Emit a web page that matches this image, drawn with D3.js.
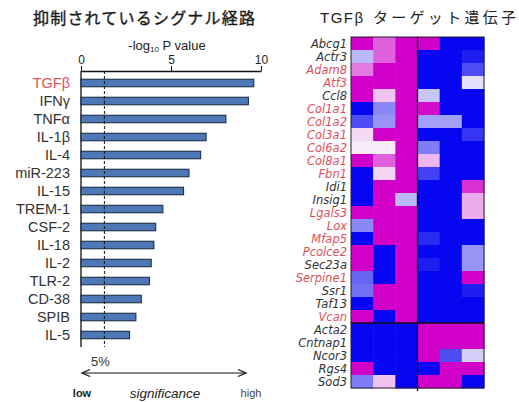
<!DOCTYPE html>
<html>
<head>
<meta charset="utf-8">
<script src="https://cdn.jsdelivr.net/npm/d3@7"></script>
<style>
  html, body { margin: 0; padding: 0; background: #fff; }
  svg { display: block; }
</style>
</head>
<body>
<div id="chart"></div>
<script>
// Suppressed signalling pathways: -log10 P value per pathway
const pathways = ["TGFβ", "IFNγ", "TNFα", "IL-1β", "IL-4", "miR-223", "IL-15", "TREM-1",
                  "CSF-2", "IL-18", "IL-2", "TLR-2", "CD-38", "SPIB", "IL-5"];
const logP = [9.6, 9.3, 8.05, 6.95, 6.65, 6.0, 5.7, 4.55, 4.15, 4.05, 3.9, 3.8, 3.35, 3.05, 2.7];
const highlightedPathways = ["TGFβ"];
const pTicks = [0, 5, 10];
const cutoff5pct = 1.3;   // -log10(0.05)

// TGFβ target genes: relative expression (-1 = low / blue, +1 = high / magenta)
const genes = ["Abcg1", "Actr3", "Adam8", "Atf3", "Ccl8", "Col1a1", "Col1a2", "Col3a1", "Col6a2",
               "Col8a1", "Fbn1", "Idi1", "Insig1", "Lgals3", "Lox", "Mfap5", "Pcolce2", "Sec23a",
               "Serpine1", "Ssr1", "Taf13", "Vcan", "Acta2", "Cntnap1", "Ncor3", "Rgs4", "Sod3"];
const knownTargets = ["Adam8", "Atf3", "Col1a1", "Col1a2", "Col3a1", "Col6a2", "Col8a1", "Fbn1",
                      "Lgals3", "Lox", "Mfap5", "Pcolce2", "Serpine1", "Vcan"];
const samples = ["s1", "s2", "s3", "s4", "s5", "s6"];
const expression = [
  [1, 0.6, 1, 1, -1, -1],
  [-0.25, 0.6, 1, -1, -1, -0.9],
  [0.5, 1, 1, -1, -1, -0.7],
  [1, 1, 1, -1, -1, -0.08],
  [1, 0.2, 1, -0.2, -1, -1],
  [-1, -0.45, 1, 0.95, -1, -1],
  [-0.7, -0.4, 1, -0.35, -0.35, -1],
  [0.1, 1, 1, -1, -1, -0.8],
  [0.03, 0.03, 1, -0.5, -1, -1],
  [1, 0.6, 1, 0.25, -1, -1],
  [-1, 0.12, 1, -0.75, -1, -1],
  [-1, 1, 1, -1, -1, 0.8],
  [-1, 1, -0.25, -1, -1, 0.3],
  [1, 1, 1, -1, -1, 0.3],
  [-0.45, 1, 1, -1, -1, -1],
  [-1, 1, 1, -0.85, -1, -1],
  [1, -1, 1, -1, -1, -0.4],
  [1, -1, 1, -0.9, -1, -0.4],
  [-0.6, -1, 1, -1, -1, 1],
  [-0.55, 1, 1, -1, -1, -0.9],
  [-1, 1, 1, -1, -1, -1],
  [1, -1, 1, -1, -1, -1],
  [-1, -1, -1, 1, 1, 1],
  [-1, -1, -1, 1, 1, 1],
  [-1, -1, -1, 1, -0.7, -0.15],
  [1, -1, -1, -1, 1, 1],
  [-0.5, 0.2, -1, 1, 1, -1]
];

const W = 519, H = 402;
const svg = d3.select("#chart").append("svg").attr("width", W).attr("height", H);
const sans = "Liberation Sans, Arial, sans-serif";
const cjk = "'Noto Sans CJK JP', sans-serif";
const red = "#e0505c";

// ---------- left panel: bar chart ----------
svg.append("text")
  .attr("x", 33).attr("y", 24)
  .attr("textLength", 222).attr("lengthAdjust", "spacing")
  .style("font-family", cjk).style("font-size", "16px")
  .attr("fill", "#1a1a1a").attr("stroke", "#1a1a1a").attr("stroke-width", 0.35)
  .text("抑制されているシグナル経路");

const x = d3.scaleLinear().domain([0, 10]).range([81, 261]);
const y = d3.scaleBand().domain(pathways).range([74, 344]).paddingInner(0.58).paddingOuter(0.29);
const axisY = 71, plotBottom = 347;

const ax = svg.append("g").attr("transform", `translate(0,${axisY})`)
  .call(d3.axisTop(x).tickValues(pTicks).tickSize(5).tickSizeOuter(0).tickPadding(2));
ax.select(".domain").attr("stroke", "#111").attr("stroke-width", 1.3);
ax.selectAll(".tick line").attr("stroke", "#111");
ax.selectAll(".tick text").style("font-family", sans).style("font-size", "12px").attr("fill", "#222");

const axTitle = svg.append("text").attr("x", 167).attr("y", 50)
  .attr("text-anchor", "middle")
  .style("font-family", sans).style("font-size", "13px").attr("fill", "#222");
axTitle.append("tspan").text("-log");
axTitle.append("tspan").attr("dy", 2).style("font-size", "8px").text("10");
axTitle.append("tspan").attr("dy", -2).text(" P value");

// vertical baseline
svg.append("line").attr("x1", x(0)).attr("x2", x(0)).attr("y1", axisY).attr("y2", plotBottom)
  .attr("stroke", "#111").attr("stroke-width", 1.3);

// bars
svg.append("g").selectAll("rect").data(pathways).join("rect")
  .attr("x", x(0))
  .attr("y", d => y(d))
  .attr("width", (d, i) => x(logP[i]) - x(0))
  .attr("height", y.bandwidth())
  .attr("fill", "#4d78b6")
  .attr("stroke", "#15243f").attr("stroke-width", 1);

// 5% significance line
svg.append("line").attr("x1", x(cutoff5pct)).attr("x2", x(cutoff5pct))
  .attr("y1", axisY).attr("y2", plotBottom)
  .attr("stroke", "#111").attr("stroke-width", 1).attr("stroke-dasharray", "3,2");

// category labels
svg.append("g").selectAll("text").data(pathways).join("text")
  .attr("x", 70)
  .attr("y", d => y(d) + y.bandwidth() / 2)
  .attr("dy", "0.36em")
  .attr("text-anchor", "end")
  .style("font-family", sans).style("font-size", "14.5px")
  .attr("fill", d => highlightedPathways.includes(d) ? red : "#333")
  .text(d => d);

svg.append("text").attr("x", x(cutoff5pct) - 4).attr("y", 366)
  .attr("text-anchor", "middle")
  .style("font-family", sans).style("font-size", "13px").attr("fill", "#333").text("5%");

// significance arrow
const arrowY = 373, ax0 = 82, ax1 = 246;
svg.append("line").attr("x1", ax0).attr("x2", ax1).attr("y1", arrowY).attr("y2", arrowY)
  .attr("stroke", "#111").attr("stroke-width", 1.2);
svg.append("path")
  .attr("d", `M${ax0 + 8},${arrowY - 3.5}L${ax0},${arrowY}L${ax0 + 8},${arrowY + 3.5}` +
             `M${ax1 - 8},${arrowY - 3.5}L${ax1},${arrowY}L${ax1 - 8},${arrowY + 3.5}`)
  .attr("fill", "none").attr("stroke", "#111").attr("stroke-width", 1.2);
svg.append("text").attr("x", 82).attr("y", 397).attr("text-anchor", "middle")
  .style("font-family", sans).style("font-size", "11px").style("font-weight", 700)
  .attr("fill", "#222").text("low");
svg.append("text").attr("x", 165).attr("y", 398).attr("text-anchor", "middle")
  .style("font-family", sans).style("font-size", "13.5px").style("font-style", "italic")
  .attr("fill", "#222").text("significance");
svg.append("text").attr("x", 251).attr("y", 397).attr("text-anchor", "middle")
  .style("font-family", sans).style("font-size", "11px")
  .attr("fill", "#444").text("high");

// ---------- right panel: heatmap ----------
const hTitle = svg.append("text").attr("y", 23)
  .style("font-size", "15px").attr("fill", "#222");
hTitle.append("tspan").attr("x", 320)
  .style("font-family", sans).style("letter-spacing", "1.5px").text("TGFβ");
hTitle.append("tspan").attr("x", 373)
  .attr("textLength", 143).attr("lengthAdjust", "spacing")
  .style("font-family", cjk).text("ターゲット遺伝子");

const hx = d3.scaleBand().domain(samples).range([351, 484]);
const hy = d3.scaleBand().domain(genes).range([37, 388]);
const color = d3.scaleLinear().domain([-1, 0, 1])
  .range(["#0606f0", "#f7f3fa", "#d000c8"]).interpolate(d3.interpolateRgb);

const cells = [];
genes.forEach((g, i) => samples.forEach((s, j) => cells.push({ g, s, v: expression[i][j] })));

svg.append("g").selectAll("rect").data(cells).join("rect")
  .attr("x", d => hx(d.s))
  .attr("y", d => hy(d.g))
  .attr("width", hx.bandwidth() + 0.5)
  .attr("height", hy.bandwidth() + 0.5)
  .attr("fill", d => color(d.v));

// group separators and frame
const x0 = hx.range()[0], x1 = hx.range()[1];
const y0 = hy.range()[0], y1 = hy.range()[1];
svg.append("rect").attr("x", x0).attr("y", y0).attr("width", x1 - x0).attr("height", y1 - y0)
  .attr("fill", "none").attr("stroke", "#222").attr("stroke-width", 1);
svg.append("line").attr("x1", hx(samples[3])).attr("x2", hx(samples[3]))
  .attr("y1", y0).attr("y2", y1 + 3).attr("stroke", "#111").attr("stroke-width", 1.3);
svg.append("line").attr("x1", x0).attr("x2", x1)
  .attr("y1", hy("Acta2")).attr("y2", hy("Acta2")).attr("stroke", "#111").attr("stroke-width", 1.3);

// gene labels
svg.append("g").selectAll("text").data(genes).join("text")
  .attr("x", 347)
  .attr("y", d => hy(d) + hy.bandwidth() / 2)
  .attr("dy", "0.36em")
  .attr("text-anchor", "end")
  .style("font-family", "'DejaVu Sans', sans-serif").style("font-size", "11.5px")
  .style("font-style", "italic")
  .attr("fill", d => knownTargets.includes(d) ? red : "#333")
  .text(d => d);
</script>
</body>
</html>
